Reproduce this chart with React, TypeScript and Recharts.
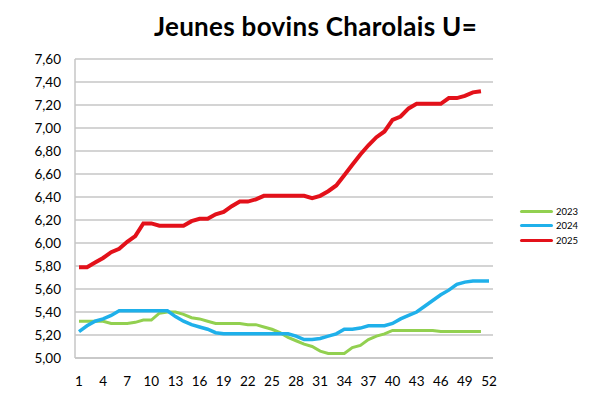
import React from 'react';
import { LineChart, Line, XAxis, YAxis, CartesianGrid, Legend } from 'recharts';

const weeks: number[] = Array.from({ length: 52 }, (_, i) => i + 1);

const y2023: (number | null)[] = [
  5.32, 5.32, 5.32, 5.32, 5.30, 5.30, 5.30, 5.31, 5.33, 5.33,
  5.39, 5.40, 5.40, 5.38, 5.35, 5.34, 5.32, 5.30, 5.30, 5.30,
  5.30, 5.29, 5.29, 5.27, 5.25, 5.22, 5.18, 5.15, 5.12, 5.10,
  5.06, 5.04, 5.04, 5.04, 5.09, 5.11, 5.16, 5.19, 5.21, 5.24,
  5.24, 5.24, 5.24, 5.24, 5.24, 5.23, 5.23, 5.23, 5.23, 5.23,
  5.23, null,
];

const y2024: (number | null)[] = [
  5.23, 5.28, 5.32, 5.34, 5.37, 5.41, 5.41, 5.41, 5.41, 5.41,
  5.41, 5.41, 5.36, 5.32, 5.29, 5.27, 5.25, 5.22, 5.21, 5.21,
  5.21, 5.21, 5.21, 5.21, 5.21, 5.21, 5.21, 5.19, 5.16, 5.16,
  5.17, 5.19, 5.21, 5.25, 5.25, 5.26, 5.28, 5.28, 5.28, 5.30,
  5.34, 5.37, 5.40, 5.45, 5.50, 5.55, 5.59, 5.64, 5.66, 5.67,
  5.67, 5.67,
];

const y2025: (number | null)[] = [
  5.79, 5.79, 5.83, 5.87, 5.92, 5.95, 6.01, 6.06, 6.17, 6.17,
  6.15, 6.15, 6.15, 6.15, 6.19, 6.21, 6.21, 6.25, 6.27, 6.32,
  6.36, 6.36, 6.38, 6.41, 6.41, 6.41, 6.41, 6.41, 6.41, 6.39,
  6.41, 6.45, 6.50, 6.59, 6.68, 6.77, 6.85, 6.92, 6.97, 7.07,
  7.10, 7.17, 7.21, 7.21, 7.21, 7.21, 7.26, 7.26, 7.28, 7.31,
  7.32, null,
];

const yTicks: number[] = [5.0, 5.2, 5.4, 5.6, 5.8, 6.0, 6.2, 6.4, 6.6, 6.8, 7.0, 7.2, 7.4, 7.6];

const seriesNames = ['2023', '2024', '2025'];
const seriesColors = ['#92d050', '#1fb0ea', '#e3111a'];
const seriesWidths = [3, 3.5, 4];

const title = 'Jeunes bovins Charolais U=';

const data = weeks.map((w, i) => ({
  week: w,
  '2023': y2023[i],
  '2024': y2024[i],
  '2025': y2025[i],
}));

const FONT = 'Lato, "Open Sans", sans-serif';

const LegendContent = () => (
  <div style={{ fontFamily: FONT, fontSize: 9.5, color: '#000' }}>
    {seriesNames.map((n, i) => (
      <div key={n} style={{ display: 'flex', alignItems: 'center', height: 14.5 }}>
        <div style={{ width: 33, height: 3, background: seriesColors[i], borderRadius: 1.5, marginRight: 3 }} />
        <span>{n}</span>
      </div>
    ))}
  </div>
);

export default function App() {
  return (
    <div style={{ position: 'absolute', left: 0, top: 0, width: 600, height: 402, background: '#fff' }}>
      <div
        style={{
          position: 'absolute',
          left: 0,
          width: 631,
          top: 10,
          textAlign: 'center',
          fontFamily: FONT,
          fontWeight: 700,
          fontSize: 26,
          letterSpacing: 0.3,
          color: '#000',
        }}
      >
        {title}
      </div>
      <LineChart width={600} height={402} data={data} margin={{ top: 59, right: 107, bottom: 14, left: 15 }}>
        <CartesianGrid vertical={false} stroke="#c6c6c6" strokeWidth={1.5} />
        <XAxis
          dataKey="week"
          interval={2}
          tickLine={false}
          axisLine={{ stroke: '#c6c6c6', strokeWidth: 1.5 }}
          padding={{ left: 4, right: 4 }}
          tick={{ fontFamily: FONT, fontSize: 13.5, fill: '#000' }}
          tickMargin={12}
          height={30}
        />
        <YAxis
          domain={[5, 7.6]}
          ticks={yTicks}
          interval={0}
          tickLine={false}
          axisLine={{ stroke: '#c6c6c6', strokeWidth: 1.5 }}
          tick={{ fontFamily: FONT, fontSize: 13.5, fill: '#000' }}
          tickFormatter={(v: number) => v.toFixed(2).replace('.', ',')}
          width={60}
          tickMargin={8}
        />
        <Legend
          layout="horizontal"
          verticalAlign="middle"
          align="center"
          content={<LegendContent />}
          wrapperStyle={{ position: 'absolute', left: 520, top: 204, width: 80 }}
        />
        {seriesNames.map((n, i) => (
          <Line
            key={n}
            type="linear"
            dataKey={n}
            stroke={seriesColors[i]}
            strokeWidth={seriesWidths[i]}
            dot={false}
            activeDot={false}
            isAnimationActive={false}
            connectNulls={false}
          />
        ))}
      </LineChart>
    </div>
  );
}
